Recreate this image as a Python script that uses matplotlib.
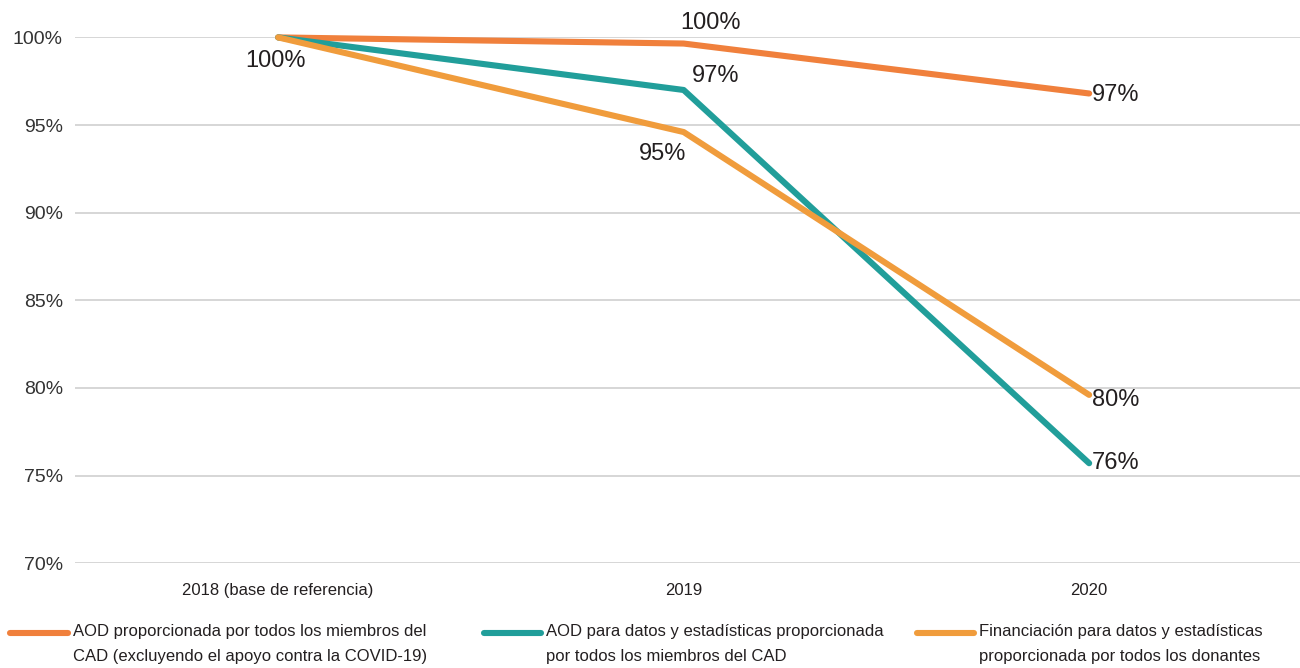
import matplotlib
matplotlib.use("Agg")
import matplotlib.pyplot as plt
from matplotlib.lines import Line2D

# Datos
categorias = ["2018 (base de referencia)", "2019", "2020"]
aod_total = [100.0, 99.65, 96.8]
aod_datos = [100.0, 97.0, 75.7]
fin_datos = [100.0, 94.6, 79.6]

etiquetas_aod_total = ["", "100%", "97%"]
etiquetas_aod_datos = ["", "97%", "76%"]
etiquetas_fin_datos = ["100%", "95%", "80%"]

leyenda = [
    "AOD proporcionada por todos los miembros del\nCAD (excluyendo el apoyo contra la COVID-19)",
    "AOD para datos y estadísticas proporcionada\npor todos los miembros del CAD",
    "Financiación para datos y estadísticas\nproporcionada por todos los donantes",
]
colores = ["#F0803C", "#219E9A", "#F09C3C"]

plt.rcParams['font.family'] = ['Liberation Sans', 'DejaVu Sans']

fig = plt.figure(figsize=(13, 6.68), dpi=100)
ax = fig.add_axes([0.058, 0.157, 0.942, 0.787])

x = list(range(len(categorias)))
series = [aod_total, aod_datos, fin_datos]
for vals, col in zip(series, colores):
    ax.plot(x, vals, color=col, lw=4.4, solid_capstyle='round', clip_on=False, zorder=3)

# Etiquetas de datos
def etiqueta(i, vals, txt, dx, dy, ha='left', va='center'):
    if txt:
        ax.annotate(txt, (x[i], vals[i]), xytext=(dx, dy), textcoords='offset points',
                    ha=ha, va=va, fontsize=17, color='#231f20')

etiqueta(0, fin_datos, etiquetas_fin_datos[0], -2, -17, ha='center')
etiqueta(1, aod_total, etiquetas_aod_total[1], 19, 15, ha='center')
etiqueta(1, aod_datos, etiquetas_aod_datos[1], 6, 10)
etiqueta(1, fin_datos, etiquetas_fin_datos[1], -15, -16, ha='center')
etiqueta(2, aod_total, etiquetas_aod_total[2], 2, -1)
etiqueta(2, fin_datos, etiquetas_fin_datos[2], 2, -4)
etiqueta(2, aod_datos, etiquetas_aod_datos[2], 2, 0)

ax.set_xlim(-0.5, 2.52)
ax.set_ylim(70, 100)
ax.set_yticks([70, 75, 80, 85, 90, 95, 100])
ax.set_yticklabels([f"{v}%" for v in [70, 75, 80, 85, 90, 95, 100]], fontsize=14, color='#333333')
ax.set_xticks(x)
ax.set_xticklabels(categorias, fontsize=12, color='#231f20')
ax.tick_params(axis='both', length=0)
ax.tick_params(axis='y', pad=9)
ax.tick_params(axis='x', pad=14)
ax.grid(axis='y', color='#d3d3d3', lw=1.3)
ax.set_axisbelow(True)
for s in ax.spines.values():
    s.set_visible(False)

# Leyenda manual
posiciones = [0.008, 0.372, 0.705]
y_linea = 1 - 633 / 668
for px, txt, col in zip(posiciones, leyenda, colores):
    fig.add_artist(Line2D([px, px + 0.044], [y_linea, y_linea], color=col, lw=4.4,
                          solid_capstyle='round', transform=fig.transFigure))
    fig.text(px + 0.048, y_linea + 0.013, txt, fontsize=12, color='#231f20', va='top', ha='left',
             linespacing=1.8)

fig.savefig("out.png", dpi=100)
